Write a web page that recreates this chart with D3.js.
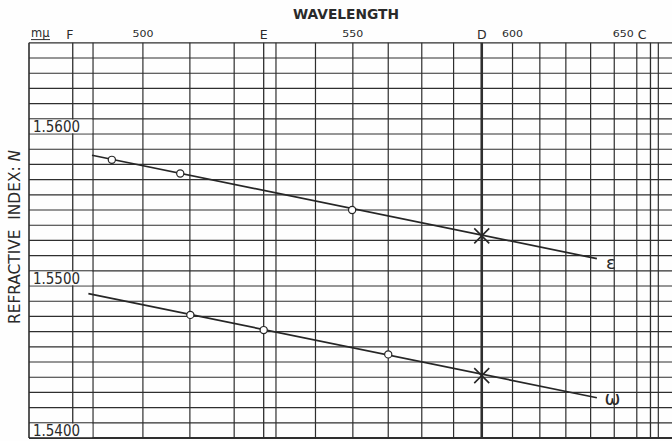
<!DOCTYPE html>
<html><head><meta charset="utf-8">
<script src="https://cdn.jsdelivr.net/npm/d3@7"></script>
<style>html,body{margin:0;padding:0;background:#fff;} svg{display:block;} text{font-family:"DejaVu Sans",sans-serif;fill:#2a2a2a;}</style>
</head><body><svg id="c" width="672" height="441"></svg>
<script>
// ---------- data ----------
const gridWavelengths = [490,500,510,520,530,540,550,560,570,580,600,610,620,630,640,650,660];
const spectralLabels = ["F","E","D","C"];
const spectralWavelengths = [486.1, 527.0, 589.3, 656.3];
const wavelengthTicks = [500, 550, 600, 650];
const indexTicks = [1.5400, 1.5500, 1.5600];
const indexTickLabels = ["1.5400", "1.5500", "1.5600"];
const indexGridStep = 0.001;
const indexExtent = [1.5400, 1.5660];
const wavelengthExtent = [478.0, 666.6];

// extraordinary ray (epsilon)
const epsilonWavelengths = [493.7, 507.9, 549.8];
const epsilonIndex = [1.5583, 1.5574, 1.5550];
const epsilonLineWavelengths = [489.8, 632.6];
const epsilonLineIndex = [1.5586, 1.5518];
// ordinary ray (omega)
const omegaWavelengths = [510.1, 527.0, 560.0];
const omegaIndex = [1.5481, 1.5471, 1.5455];
const omegaLineWavelengths = [489.1, 632.6];
const omegaLineIndex = [1.5495, 1.54265];
// sodium D values
const dWavelength = 589.3;
const dIndex = [1.5533, 1.5441];
const seriesLabels = ["\u03B5", "\u03C9"];

// ---------- layout ----------
const svg = d3.select("#c");
const W = 672, H = 441;
const frameLeft = 29, frameRight = 672, frameBottom = 438, frameTop = 42.8;
const ink = "#2e2e2e";

const inv2 = l => 1e6 / (l * l);           // 1/lambda^2 (um^-2)
const xLin = d3.scaleLinear().domain(wavelengthExtent.map(inv2)).range([frameLeft, frameRight]);
const x = l => xLin(inv2(l));
const y = d3.scaleLinear().domain(indexExtent).range([frameBottom, frameTop]);

svg.append("rect").attr("width", W).attr("height", H).attr("fill", "#fefefe");

// horizontal grid
const nH = Math.round((indexExtent[1] - indexExtent[0]) / indexGridStep);
const hGrid = d3.range(nH + 1).map(i => indexExtent[0] + i * indexGridStep);
svg.append("g").selectAll("line").data(hGrid).join("line")
  .attr("x1", frameLeft).attr("x2", frameRight)
  .attr("y1", d => y(d)).attr("y2", d => y(d))
  .attr("stroke", ink).attr("stroke-width", (d, i) => i === 0 ? 2 : 1.15);

// vertical grid
svg.append("g").selectAll("line").data(gridWavelengths).join("line")
  .attr("x1", d => x(d)).attr("x2", d => x(d))
  .attr("y1", frameTop).attr("y2", frameBottom)
  .attr("stroke", ink).attr("stroke-width", 1.2);

// spectral lines
svg.append("g").selectAll("line").data(spectralWavelengths).join("line")
  .attr("x1", d => x(d)).attr("x2", d => x(d))
  .attr("y1", frameTop).attr("y2", frameBottom)
  .attr("stroke", ink).attr("stroke-width", (d, i) => spectralLabels[i] === "D" ? 2.6 : 1.3);

// left border
svg.append("line").attr("x1", frameLeft).attr("x2", frameLeft).attr("y1", frameTop).attr("y2", frameBottom)
  .attr("stroke", ink).attr("stroke-width", 1.6);

// y tick label cells
const cells = svg.append("g");
indexTicks.forEach((v, i) => {
  const y0 = y(v), y1 = y(v + indexGridStep);
  cells.append("rect").attr("x", frameLeft + 1).attr("y", y1 + 0.8)
    .attr("width", x(490) - frameLeft - 1.8).attr("height", y0 - y1 - 1.6).attr("fill", "#fefefe");
  cells.append("text").attr("x", frameLeft + 4).attr("y", y0 - 2)
    .attr("font-size", 16).attr("textLength", 47).attr("lengthAdjust", "spacingAndGlyphs")
    .text(indexTickLabels[i]);
});

// title
svg.append("text").attr("x", 346).attr("y", 18.5).attr("text-anchor", "middle")
  .attr("font-size", 13.5).attr("font-weight", "bold")
  .attr("textLength", 106).attr("lengthAdjust", "spacingAndGlyphs").text("WAVELENGTH");

// y axis title
const yt = svg.append("text").attr("transform", "translate(14,237) rotate(-90)")
  .attr("text-anchor", "middle").attr("dominant-baseline", "central")
  .attr("font-size", 16).attr("textLength", 174).attr("lengthAdjust", "spacingAndGlyphs")
  .style("white-space", "pre");
yt.append("tspan").text("REFRACTIVE  INDEX: ");
yt.append("tspan").attr("font-style", "italic").text("N");

// top labels
svg.append("text").attr("x", 31).attr("y", 36.5).attr("font-size", 11.5).text("m\u03BC");
svg.append("line").attr("x1", 31).attr("x2", 50).attr("y1", 39.6).attr("y2", 39.6)
  .attr("stroke", ink).attr("stroke-width", 1);

const labelAnchor = { F: "middle", E: "middle", D: "middle", C: "end" };
const labelShift = { F: -3, E: 0, D: 0, C: -4 };
svg.append("g").selectAll("text").data(spectralWavelengths).join("text")
  .attr("x", (d, i) => x(d) + labelShift[spectralLabels[i]])
  .attr("y", 39).attr("text-anchor", (d, i) => labelAnchor[spectralLabels[i]])
  .attr("font-size", 12.5).text((d, i) => spectralLabels[i]);

svg.append("g").selectAll("text").data(wavelengthTicks).join("text")
  .attr("x", d => d === 650 ? x(d) - 3 : x(d))
  .attr("y", 37).attr("text-anchor", d => d === 650 ? "end" : "middle")
  .attr("font-size", 9).attr("textLength", 21).attr("lengthAdjust", "spacingAndGlyphs")
  .text(d => d);

// series lines
const series = [
  { lw: epsilonLineWavelengths, ln: epsilonLineIndex, pw: epsilonWavelengths, pn: epsilonIndex, d: dIndex[0], lab: seriesLabels[0], fs: 18, dx: 14, dy: 10.5 },
  { lw: omegaLineWavelengths, ln: omegaLineIndex, pw: omegaWavelengths, pn: omegaIndex, d: dIndex[1], lab: seriesLabels[1], fs: 19, dx: 15.5, dy: 7 }
];
const lineGen = d3.line().x(d => x(d[0])).y(d => y(d[1]));
series.forEach(s => {
  svg.append("path").datum(d3.zip(s.lw, s.ln)).attr("d", lineGen)
    .attr("fill", "none").attr("stroke", "#262626").attr("stroke-width", 1.7);
  svg.append("g").selectAll("circle").data(d3.zip(s.pw, s.pn)).join("circle")
    .attr("cx", d => x(d[0])).attr("cy", d => y(d[1])).attr("r", 3.6)
    .attr("fill", "#fff").attr("stroke", "#262626").attr("stroke-width", 1.2);
  const cx = x(dWavelength), cy = y(s.d), k = 7.5;
  svg.append("path").attr("d", `M${cx - k},${cy - k}L${cx + k},${cy + k}M${cx - k},${cy + k}L${cx + k},${cy - k}`)
    .attr("stroke", "#262626").attr("stroke-width", 1.6);
  const ex = x(s.lw[1]), ey = y(s.ln[1]);
  svg.append("text").attr("x", ex + s.dx).attr("y", ey + s.dy).attr("text-anchor", "middle")
    .attr("font-size", s.fs).text(s.lab);
});
</script></body></html>
